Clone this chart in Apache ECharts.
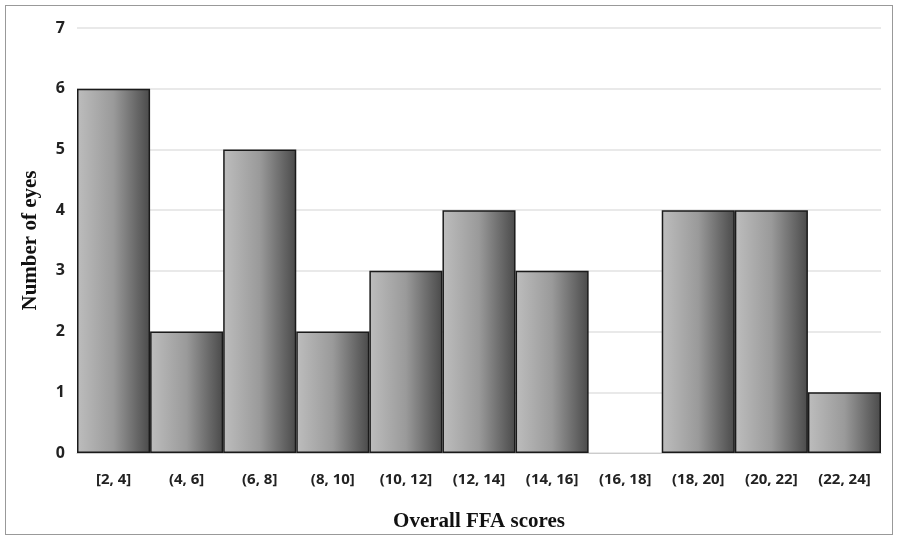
<!DOCTYPE html>
<html><head><meta charset="utf-8">
<script src="https://cdn.jsdelivr.net/npm/echarts@6/dist/echarts.min.js"></script>
<style>html,body{margin:0;padding:0;background:#fff}#c{width:900px;height:543px}
#f{position:absolute;left:5px;top:5px;width:888px;height:530px;border:1.5px solid #999;box-sizing:border-box;pointer-events:none}</style>
</head><body><div id="c"></div><div id="f"></div>
<script>
const categories = ['[2, 4]','(4, 6]','(6, 8]','(8, 10]','(10, 12]','(12, 14]','(14, 16]','(16, 18]','(18, 20]','(20, 22]','(22, 24]'];
const counts = [6,2,5,2,3,4,3,0,4,4,1];
const yTicks = [0,1,2,3,4,5,6,7];
const chart = echarts.init(document.getElementById('c'));
chart.setOption({
  animation:false,
  grid:{left:77,right:19,top:28,bottom:90},
  xAxis:{type:'category',data:categories,
    name:'Overall FFA scores',nameLocation:'middle',nameGap:58,
    nameTextStyle:{fontFamily:'Liberation Serif',fontWeight:'bold',fontSize:21,color:'#111'},
    axisLine:{lineStyle:{color:'#ccc',width:1}},axisTick:{show:false},
    axisLabel:{margin:19,fontFamily:'Open Sans',fontWeight:'bold',fontSize:15,color:'#222',interval:0}},
  yAxis:{type:'value',min:0,max:7,interval:1,
    name:'Number of eyes',nameLocation:'middle',nameGap:36,
    nameTextStyle:{fontFamily:'Liberation Serif',fontWeight:'bold',fontSize:21,color:'#111'},
    axisLabel:{margin:12,fontFamily:'Open Sans',fontWeight:'bold',fontSize:16,color:'#222',
      formatter:v=>yTicks.includes(v)?String(v):''},
    splitLine:{lineStyle:{color:'#e2e2e2',width:1.5}},axisLine:{show:false},axisTick:{show:false}},
  series:[{type:'bar',barCategoryGap:0,
    data:counts.map(v=>v===0?{value:v,itemStyle:{borderWidth:0}}:v),
    itemStyle:{borderColor:'#1a1a1a',borderWidth:1.5,
      color:new echarts.graphic.LinearGradient(0,0,1,0,[
        {offset:0,color:'#bdbdbd'},{offset:0.5,color:'#9a9a9a'},{offset:1,color:'#4a4a4a'}])}}]
});
</script></body></html>
